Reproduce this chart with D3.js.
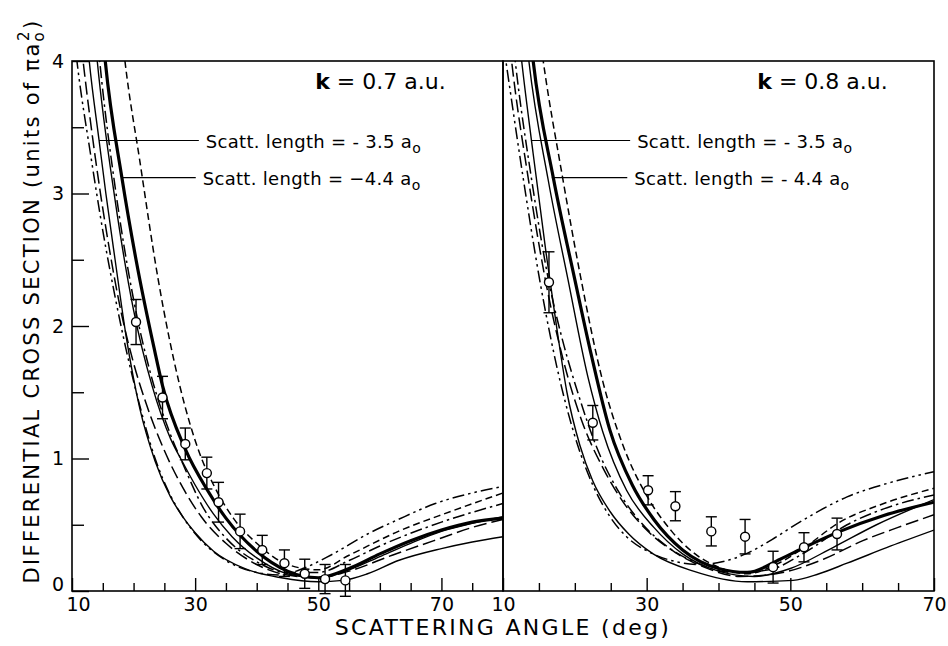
<!DOCTYPE html>
<html>
<head>
<meta charset="utf-8">
<script src="https://cdn.jsdelivr.net/npm/d3@7"></script>
<style>
  body { margin: 0; background: #fff; }
  svg { display: block; }
  text { font-family: "DejaVu Sans", sans-serif; fill: #000; }
</style>
</head>
<body>
<svg id="chart" width="948" height="646"></svg>
<script>
// ---- data: [scattering angle (deg), cross section (units of pi a0^2)] ----

// k = 0.7 a.u.
var left_s1    = [[12.2,4.3],[12.8,4.0],[14.4,3.4],[15.5,3.0],[17,2.5],[18.8,1.92],[21,1.38],[23.5,0.98],[26,0.71],[28,0.56],[30,0.44],[33,0.3],[38,0.17],[44,0.1],[50,0.07],[54,0.08],[58,0.13],[63,0.23],[70,0.32],[75,0.37],[80,0.41]];
var left_ddot  = [[10.2,4.25],[10.8,4.0],[13,3.3],[15,2.72],[17,2.22],[18.8,1.82],[21,1.4],[23.5,1.0],[26,0.72],[28,0.56],[31,0.38],[35,0.23],[40,0.14],[44,0.12],[47,0.16],[52,0.27],[58,0.43],[63,0.54],[69,0.66],[75,0.74],[80,0.79]];
var left_ld    = [[11.2,4.25],[11.8,4.0],[14,3.2],[16,2.6],[18,2.1],[20,1.72],[22,1.42],[25,1.06],[28,0.78],[31,0.56],[35,0.36],[40,0.2],[45,0.12],[50,0.1],[55,0.15],[62,0.27],[70,0.4],[75,0.48],[80,0.54]];
var left_s2    = [[13.5,4.3],[14.1,4.0],[17,2.95],[20,2.12],[23,1.55],[26,1.15],[28,0.97],[30,0.8],[33,0.58],[36,0.41],[40,0.25],[45,0.13],[50,0.1],[55,0.16],[60,0.26],[65,0.36],[70,0.45],[75,0.51],[80,0.56]];
var left_dd    = [[13.9,4.3],[14.5,4.0],[17,3.05],[20,2.2],[23,1.6],[26,1.18],[28,0.96],[31.3,0.63],[35,0.4],[40,0.22],[45,0.14],[50,0.14],[55,0.23],[60,0.34],[70,0.52],[80,0.66]];
var left_thick = [[14.8,4.3],[15.4,4.0],[18.1,3.12],[20.4,2.5],[23.3,1.84],[24.7,1.55],[28.4,1.07],[32,0.76],[35,0.55],[40,0.3],[45,0.15],[50,0.1],[55,0.17],[60,0.28],[65,0.38],[70,0.46],[75,0.52],[80,0.55]];
var left_dash  = [[18,4.25],[18.6,4.0],[21,3.25],[24,2.35],[27.5,1.55],[30.8,1.03],[33,0.8],[36.2,0.55],[40,0.36],[45,0.2],[50,0.16],[55,0.27],[63,0.45],[71.5,0.6],[80,0.74]];
// measured points: [angle, value, error]
var left_obs = [[20.4,2.03,0.17],[24.7,1.46,0.16],[28.4,1.11,0.12],[31.9,0.89,0.12],[33.8,0.67,0.15],[37.3,0.45,0.13],[40.9,0.31,0.11],[44.5,0.21,0.1],[47.8,0.13,0.11],[51.1,0.09,0.11],[54.4,0.08,0.12]];

// k = 0.8 a.u.
var right_ddot  = [[10.0,4.15],[10.4,4.0],[12.8,3.12],[15.1,2.35],[18.1,1.55],[20.4,1.1],[22.5,0.8],[24.9,0.56],[27.2,0.41],[30.5,0.29],[34.2,0.22],[37.4,0.2],[40.5,0.22],[43.8,0.28],[47.5,0.39],[51.3,0.52],[57.9,0.71],[64,0.82],[70,0.9]];
var right_ld    = [[10.7,4.25],[11.2,4.0],[13.5,3.12],[16,2.32],[18.5,1.72],[21,1.28],[24,0.92],[27,0.65],[30,0.46],[34,0.29],[38,0.18],[43,0.11],[48,0.13],[54.6,0.24],[60.1,0.38],[65,0.48],[70,0.575]];
var right_s1    = [[12.1,4.25],[12.6,4.0],[14.2,3.3],[16,2.55],[17.5,1.98],[18.9,1.5],[20.7,1.1],[22.5,0.83],[24.9,0.6],[27.5,0.43],[30.9,0.28],[36.5,0.15],[44,0.07],[50.4,0.08],[54,0.13],[57.9,0.21],[64,0.34],[70,0.46]];
var right_dd    = [[11.2,4.25],[11.7,4.0],[14,3.1],[16.4,2.33],[18.5,1.85],[20.4,1.5],[23,1.09],[26.2,0.74],[29,0.53],[33,0.33],[37,0.21],[42,0.14],[47,0.16],[52,0.29],[57.9,0.5],[63,0.62],[70,0.725]];
var right_s2    = [[13.1,4.25],[13.6,4.0],[16.3,3.1],[19.05,2.35],[21.8,1.62],[23.9,1.2],[27.2,0.76],[31,0.48],[35,0.28],[40,0.15],[45,0.11],[50,0.17],[56,0.33],[62,0.5],[70,0.69]];
var right_thick = [[13.7,4.25],[14.2,4.0],[17,3.12],[20,2.35],[22.3,1.78],[24.85,1.22],[28,0.8],[31,0.54],[35,0.31],[40,0.17],[44,0.14],[48.6,0.24],[52,0.33],[56.9,0.45],[63,0.57],[70,0.67]];
var right_dash  = [[15.1,4.2],[15.6,4.0],[18.2,3.15],[20.7,2.4],[23.9,1.58],[26.7,1.1],[30,0.72],[33.5,0.45],[36.5,0.29],[40,0.18],[44,0.13],[48,0.2],[52,0.33],[56.9,0.52],[63,0.66],[70,0.775]];
var right_obs = [[16.4,2.33,0.23],[22.5,1.27,0.13],[30.2,0.76,0.11],[34,0.64,0.11],[39,0.45,0.11],[43.7,0.41,0.13],[47.6,0.18,0.12],[51.9,0.33,0.11],[56.5,0.43,0.12]];

// axes
var yMajor = [0, 1, 2, 3, 4];
var yMinor = [0.5, 1.5, 2.5, 3.5];
var xMajor = [10, 30, 50, 70];

// leaders: [angle on curve, value, angle where the line ends, label]
var left_leaders  = [[14.4, 3.4, 30.6, "Scatt. length = - 3.5 a"], [18.1, 3.12, 30.1, "Scatt. length = \u22124.4 a"]];
var right_leaders = [[14.0, 3.4, 27.7, "Scatt. length = - 3.5 a"], [16.8, 3.12, 27.3, "Scatt. length = - 4.4 a"]];

var styles = {
  solid: { w: 1.4, dash: null },
  thick: { w: 3.2, dash: null },
  dash:  { w: 1.5, dash: "7,4" },
  ld:    { w: 1.5, dash: "13,5" },
  dd:    { w: 1.5, dash: "12,4,2.5,4" },
  ddot:  { w: 1.5, dash: "12,4,2.5,4,2.5,4" }
};

var svg = d3.select("#chart");
var top0 = 61, bottom0 = 591;

var y = d3.scaleLinear().domain([0, 4]).range([bottom0, top0]);

function drawPanel(p) {
  var x = d3.scaleLinear().domain(p.domain).range(p.range);
  var g = svg.append("g");

  g.append("clipPath").attr("id", p.id)
    .append("rect")
      .attr("x", p.range[0]).attr("y", top0)
      .attr("width", p.range[1] - p.range[0]).attr("height", bottom0 - top0);

  // x ticks (inward)
  var minor = d3.range(p.domain[0] + 5, p.domain[1], 5).filter(function(v) { return xMajor.indexOf(v) < 0; });
  g.append("g").attr("transform", "translate(0," + bottom0 + ")")
    .call(d3.axisBottom(x).tickValues(minor).tickSize(-8).tickFormat(""))
    .call(function(a) { a.select(".domain").remove(); });
  g.append("g").attr("transform", "translate(0," + bottom0 + ")")
    .call(d3.axisBottom(x).tickValues(xMajor).tickSize(-13).tickPadding(7).tickFormat(d3.format("d")))
    .call(function(a) {
      a.select(".domain").remove();
      a.selectAll("text").style("font-size", "19px").attr("fill", "#000");
      // the first label sits just right of the corner
      a.selectAll("text").filter(function(d) { return d === p.domain[0]; }).attr("dx", p.firstDx);
    });
  g.selectAll(".tick line").attr("stroke", "#000").attr("stroke-width", 1.4);

  // curves
  var line = d3.line()
    .x(function(d) { return x(d[0]); })
    .y(function(d) { return y(d[1]); })
    .curve(d3.curveMonotoneX);

  var cg = g.append("g").attr("clip-path", "url(#" + p.id + ")");
  p.series.forEach(function(s) {
    var st = styles[s.s];
    cg.append("path")
      .attr("d", line(s.d))
      .attr("fill", "none")
      .attr("stroke", "#000")
      .attr("stroke-width", st.w)
      .attr("stroke-dasharray", st.dash);
  });

  // leaders and labels
  p.leaders.forEach(function(l) {
    g.append("line")
      .attr("x1", x(l[0])).attr("x2", x(l[2]))
      .attr("y1", y(l[1])).attr("y2", y(l[1]))
      .attr("stroke", "#000").attr("stroke-width", 1.1);
    var t = g.append("text")
      .attr("x", x(l[2]) + 7).attr("y", y(l[1]) + 7)
      .style("font-size", "18px").style("letter-spacing", "0.3px");
    t.append("tspan").text(l[3]);
    t.append("tspan").attr("dy", 5).style("font-size", "14px").text("o");
  });

  // k label
  var k = g.append("text")
    .attr("x", x(p.kPos[0])).attr("y", y(p.kPos[1]))
    .style("font-size", "22px");
  k.append("tspan").style("font-weight", "bold").text("k");
  k.append("tspan").text(" = " + p.k + "  a.u.");

  // measured points
  var og = g.append("g");
  p.obs.forEach(function(o) {
    var cx = x(o[0]);
    og.append("line")
      .attr("x1", cx).attr("x2", cx)
      .attr("y1", y(o[1] - o[2])).attr("y2", y(o[1] + o[2]))
      .attr("stroke", "#000").attr("stroke-width", 1.4);
    [o[1] - o[2], o[1] + o[2]].forEach(function(v) {
      og.append("line")
        .attr("x1", cx - 5.5).attr("x2", cx + 5.5)
        .attr("y1", y(v)).attr("y2", y(v))
        .attr("stroke", "#000").attr("stroke-width", 1.4);
    });
    og.append("circle")
      .attr("cx", cx).attr("cy", y(o[1])).attr("r", 4.5)
      .attr("fill", "#fff").attr("stroke", "#000").attr("stroke-width", 1.4);
  });

  // frame
  g.append("rect")
    .attr("x", p.range[0]).attr("y", top0)
    .attr("width", p.range[1] - p.range[0]).attr("height", bottom0 - top0)
    .attr("fill", "none").attr("stroke", "#000").attr("stroke-width", 1.6);
}

drawPanel({
  id: "clipL", domain: [10, 80], range: [72, 503], k: "0.7", kPos: [49.5, 3.79], firstDx: 6,
  leaders: left_leaders, obs: left_obs,
  series: [
    { d: left_s1, s: "solid" }, { d: left_s2, s: "solid" }, { d: left_thick, s: "thick" },
    { d: left_dash, s: "dash" }, { d: left_ld, s: "ld" }, { d: left_dd, s: "dd" }, { d: left_ddot, s: "ddot" }
  ]
});
drawPanel({
  id: "clipR", domain: [10, 70], range: [503, 934], k: "0.8", kPos: [45.4, 3.79], firstDx: 0,
  leaders: right_leaders, obs: right_obs,
  series: [
    { d: right_s1, s: "solid" }, { d: right_s2, s: "solid" }, { d: right_thick, s: "thick" },
    { d: right_dash, s: "dash" }, { d: right_ld, s: "ld" }, { d: right_dd, s: "dd" }, { d: right_ddot, s: "ddot" }
  ]
});

// y axis ticks on the left edge
svg.append("g").attr("transform", "translate(72,0)")
  .call(d3.axisLeft(y).tickValues(yMinor).tickSize(-12).tickFormat(""))
  .call(function(a) { a.select(".domain").remove(); });
svg.append("g").attr("transform", "translate(72,0)")
  .call(d3.axisLeft(y).tickValues(yMajor).tickSize(-17).tickPadding(8).tickFormat(d3.format("d")))
  .call(function(a) {
    a.select(".domain").remove();
    a.selectAll("text").style("font-size", "19px").attr("fill", "#000");
    a.selectAll("text").filter(function(d) { return d === 0; }).attr("dy", "-0.05em");
  });
svg.selectAll(".tick line").attr("stroke", "#000").attr("stroke-width", 1.4);

// axis titles
svg.append("text")
  .attr("x", 503).attr("y", 635)
  .attr("text-anchor", "middle")
  .style("font-size", "22px").style("letter-spacing", "2.3px")
  .text("SCATTERING ANGLE (deg)");

var yt = svg.append("text")
  .attr("transform", "translate(39,301) rotate(-90)")
  .attr("text-anchor", "middle")
  .style("font-size", "21px").style("letter-spacing", "2.3px");
yt.append("tspan").text("DIFFERENTIAL  CROSS  SECTION  (units of \u03c0a");
yt.append("tspan").attr("dy", 5).style("font-size", "15px").text("o");
yt.append("tspan").attr("dy", -15).attr("dx", -11).style("font-size", "15px").text("2");
yt.append("tspan").attr("dy", 10).text(")");
</script>
</body>
</html>
